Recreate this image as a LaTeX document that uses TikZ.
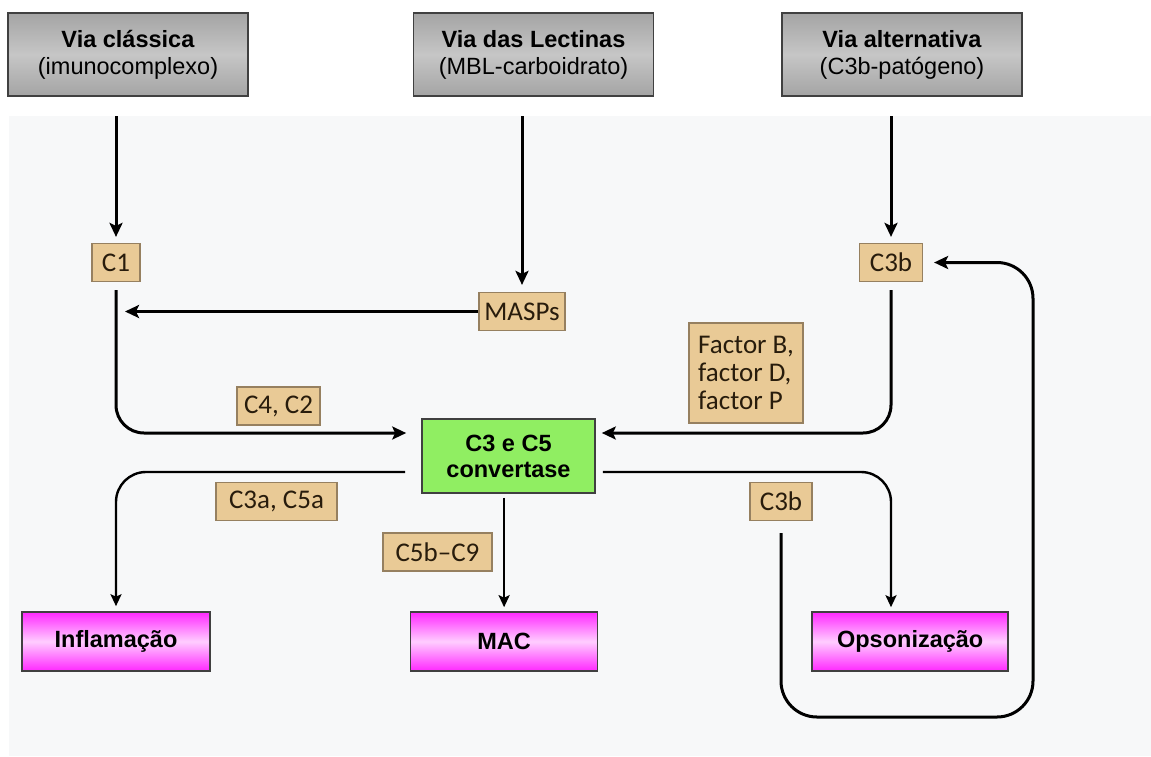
\documentclass[tikz,border=0pt]{standalone}
\usepackage{fontspec}
\setmainfont{Liberation Sans}
\newfontfamily\tagfont{Carlito}
\usetikzlibrary{positioning, arrows.meta}

\definecolor{viagray}{RGB}{164,164,164}
\definecolor{vialight}{RGB}{198,198,198}
\definecolor{tanfill}{RGB}{233,202,150}
\definecolor{tanedge}{RGB}{150,128,96}
\definecolor{tagtext}{RGB}{40,28,12}
\definecolor{hubgreen}{RGB}{144,238,98}
\definecolor{pinkdark}{RGB}{255,40,255}
\definecolor{pinklight}{RGB}{255,205,255}
\definecolor{panel}{RGB}{247,248,249}
\definecolor{edgegray}{RGB}{64,64,64}

\begin{document}
\begin{tikzpicture}[
    x=1pt, y=-1pt,
    via/.style={rectangle, draw=edgegray, line width=1.6pt, top color=viagray, bottom color=viagray, middle color=vialight, minimum width=240pt, minimum height=83pt, align=center, font=\fontsize{23.5}{27}\selectfont},
    tag/.style={rectangle, draw=tanedge, line width=1.2pt, fill=tanfill, minimum height=38pt, inner xsep=5pt, text=tagtext, font=\tagfont\fontsize{27}{28}\selectfont},
    hub/.style={rectangle, draw=edgegray, line width=1.6pt, fill=hubgreen, minimum width=173pt, minimum height=74pt, align=center, font=\bfseries\fontsize{23.5}{26}\selectfont},
    outcome/.style={rectangle, draw=edgegray, line width=1.6pt, top color=pinkdark, bottom color=pinkdark, middle color=pinklight, minimum width=188pt, minimum height=59pt, font=\bfseries\fontsize{23.5}{27}\selectfont},
    flow/.style={line width=3pt, -{Stealth[length=14pt, width=13pt, inset=3pt]}},
    outflow/.style={line width=2.4pt, -{Stealth[length=12pt, width=11pt, inset=2.5pt]}}
]
\useasboundingbox (0,0) rectangle (1151,756);
\fill[panel] (9,116) rectangle (1151,756);

% entradas
\node [via] (viacl) at (128,54.5) {\textbf{Via clássica}\\(imunocomplexo)};
\node [via] (vialec) at (533.5,54.5) {\textbf{Via das Lectinas}\\(MBL-carboidrato)};
\node [via] (viaalt) at (902,54.5) {\textbf{Via alternativa}\\(C3b-patógeno)};

\coordinate (topA) at (116,116);
\coordinate (topB) at (522,116);
\coordinate (topC) at (891,116);

% componentes
\node [tag, minimum width=48pt] (c1) at (116,262.5) {C1};
\node [tag, minimum width=86pt] (masps) at (522,311.5) {MASPs};
\node [tag, minimum width=63pt] (c3top) at (891,262.5) {C3b};
\node [hub] (conv) at (508.5,456) {C3 e C5\\convertase};
\node [tag, minimum width=83pt] (c4c2) at (278.5,406) {C4, C2};
\node [tag, minimum width=114pt, minimum height=100pt, align=left] (factors) at (746,373) {Factor B,\\factor D,\\factor P};
\node [tag, minimum width=121pt] (c3c5a) at (276.5,501.5) {C3a, C5a};
\node [tag, minimum width=109pt] (c5bc9) at (437.5,552) {C5b–C9};
\node [tag, minimum width=62pt] (c3low) at (781,501.5) {C3b};

% efeitos
\node [outcome] (infl) at (116,641.5) {Inflamação};
\node [outcome, right=199pt of infl, minimum width=187pt] (mac) {MAC};
\node [outcome, right=213pt of mac, minimum width=196pt] (opso) {Opsonização};

\coordinate (loopturn) at (1033,717);

\draw [flow, shorten >=6pt] (topA) -- (c1.north);
\draw [flow, shorten >=7pt] (topB) -- (masps.north);
\draw [flow, shorten >=6pt] (topC) -- (c3top.north);
\draw [flow, shorten >=9pt] (masps.west) -- (c1 |- masps.west);
\draw [flow, rounded corners=28pt, shorten <=8pt, shorten >=15pt] (c1.south) |- ([yshift=23pt]conv.west);
\draw [flow, rounded corners=28pt, shorten <=8pt, shorten >=6pt] (c3top.south) |- ([yshift=23pt]conv.east);
\draw [outflow, rounded corners=30pt, shorten <=16pt, shorten >=5pt] ([yshift=-16pt]conv.west) -| (infl.north);
\draw [outflow, shorten <=4pt, shorten >=4pt] (conv.south -| mac.north) -- (mac.north);
\draw [outflow, rounded corners=30pt, shorten <=7pt, shorten >=4pt] ([yshift=-16pt]conv.east) -| (c3top |- opso.north);
\draw [flow, rounded corners=36pt, shorten <=12pt, shorten >=11pt] (c3low.south) |- (loopturn) |- (c3top.east);

\end{tikzpicture}
\end{document}
